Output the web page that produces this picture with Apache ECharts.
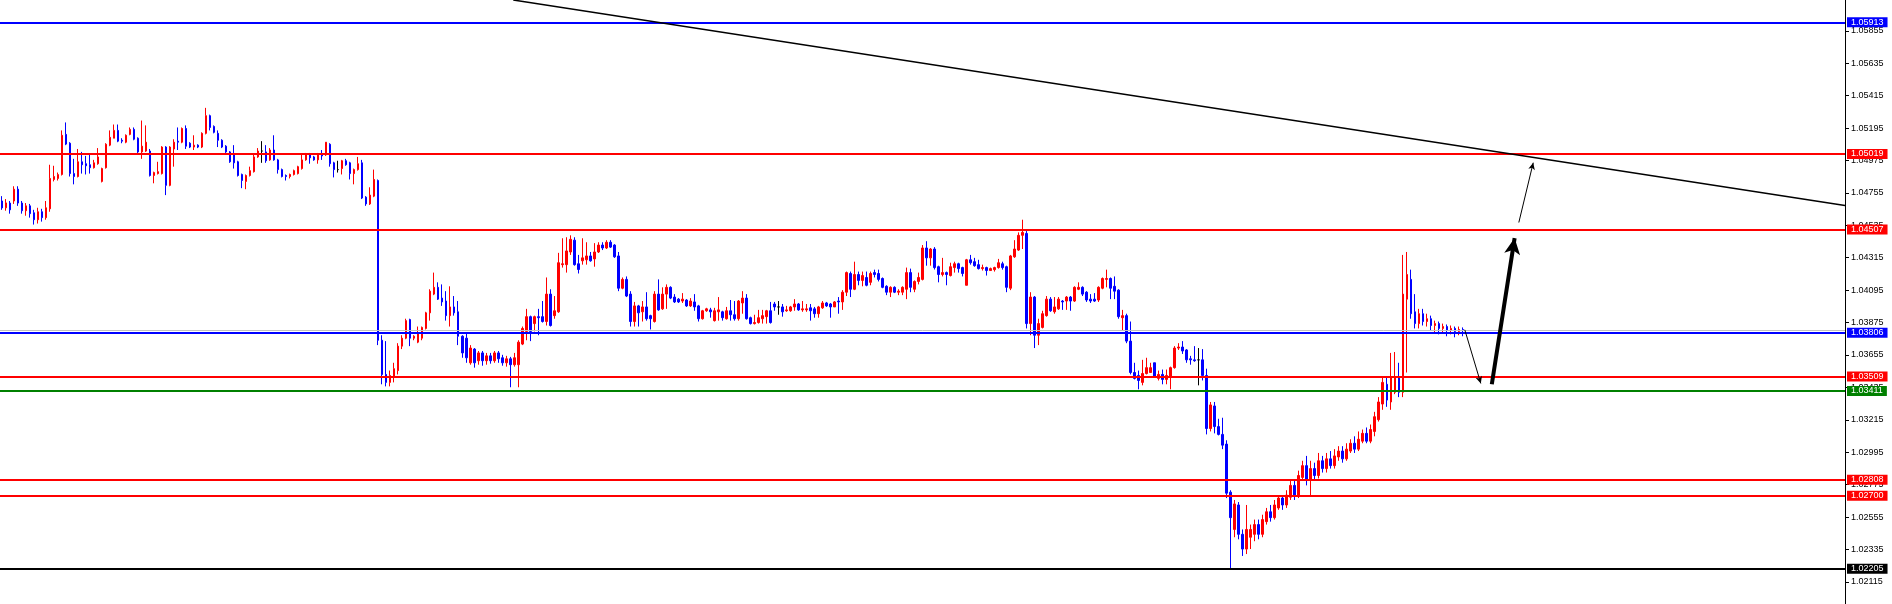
<!DOCTYPE html>
<html><head><meta charset="utf-8">
<script src="https://cdn.jsdelivr.net/npm/echarts@6/dist/echarts.min.js"></script>
<style>html,body{margin:0;padding:0;background:#fff}#c{width:1892px;height:604px}</style>
</head><body><div id="c"></div>
<script>
// ---- DATA (bars) ----
const OPEN = [
1.04700,1.04654,1.04686,1.04700,1.04780,1.04686,1.04634,1.04667,1.04620,1.04573,
1.04627,1.04587,1.04647,1.04846,1.04853,1.04880,1.05152,1.05092,1.04886,1.04866,
1.04966,1.04953,1.04946,1.04926,1.04953,1.04833,1.04926,1.05079,1.05126,1.05179,
1.05112,1.05099,1.05152,1.05186,1.05126,1.05033,1.05039,1.05039,1.04873,1.04886,
1.04886,1.05066,1.04806,1.05053,1.05106,1.05099,1.05192,1.05092,1.05066,1.05079,
1.05066,1.05159,1.05279,1.05206,1.05159,1.05112,1.05072,1.05033,1.05019,1.04966,
1.04880,1.04833,1.04873,1.04899,1.04999,1.05039,1.05033,1.04979,1.05046,1.04979,
1.04913,1.04873,1.04866,1.04880,1.04886,1.04920,1.04979,1.05019,1.04999,1.04979,
1.05013,1.05013,1.05085,1.04959,1.04913,1.04920,1.04973,1.04959,1.04886,1.04913,
1.04959,1.04726,1.04680,1.04733,1.04839,1.03755,1.03523,1.03469,1.03509,1.03549,
1.03715,1.03769,1.03895,1.03769,1.03742,1.03769,1.03835,1.03941,1.04068,1.04114,
1.04041,1.04021,1.03922,1.03981,1.03948,1.03782,1.03769,1.03602,1.03695,1.03616,
1.03669,1.03616,1.03649,1.03616,1.03669,1.03636,1.03602,1.03629,1.03589,1.03589,
1.03729,1.03815,1.03915,1.03868,1.03915,1.03915,1.03882,1.04068,1.03922,1.03948,
1.04268,1.04268,1.04354,1.04434,1.04274,1.04294,1.04301,1.04327,1.04307,1.04354,
1.04401,1.04381,1.04420,1.04401,1.04327,1.04108,1.04168,1.04068,1.03882,1.03988,
1.03948,1.03981,1.03922,1.03882,1.04068,1.03968,1.04068,1.04114,1.04048,1.04034,
1.04021,1.04028,1.03988,1.04015,1.03988,1.03901,1.03955,1.03961,1.03888,1.03948,
1.03948,1.03901,1.03955,1.03928,1.03901,1.04008,1.04041,1.03908,1.03868,1.03875,
1.03901,1.03915,1.03955,1.04001,1.03981,1.03981,1.03955,1.03955,1.03981,1.04001,
1.03961,1.03961,1.03975,1.03968,1.03935,1.03975,1.04008,1.04001,1.03981,1.04021,
1.04015,1.04081,1.04208,1.04101,1.04201,1.04161,1.04181,1.04148,1.04214,1.04208,
1.04174,1.04121,1.04081,1.04114,1.04081,1.04081,1.04101,1.04214,1.04101,1.04154,
1.04168,1.04381,1.04314,1.04374,1.04254,1.04201,1.04214,1.04194,1.04248,1.04274,
1.04248,1.04128,1.04301,1.04288,1.04268,1.04241,1.04248,1.04228,1.04234,1.04248,
1.04274,1.04254,1.04108,1.04321,1.04367,1.04467,1.04480,1.03868,1.04048,1.03789,
1.03842,1.03922,1.04034,1.03948,1.03968,1.04021,1.04021,1.04048,1.04021,1.04101,
1.04114,1.04081,1.04034,1.04034,1.04028,1.04108,1.04168,1.04174,1.04121,1.04095,
1.03908,1.03922,1.03749,1.03536,1.03516,1.03469,1.03529,1.03536,1.03602,1.03496,
1.03523,1.03489,1.03509,1.03569,1.03702,1.03709,1.03689,1.03629,1.03622,1.03622,
1.03622,1.03516,1.03156,1.03309,1.03169,1.03116,1.03050,1.02724,1.02471,1.02637,
1.02438,1.02338,1.02418,1.02438,1.02504,1.02438,1.02524,1.02591,1.02551,1.02617,
1.02684,1.02637,1.02690,1.02770,1.02704,1.02824,1.02904,1.02804,1.02884,1.02837,
1.02937,1.02884,1.02950,1.02904,1.02963,1.03003,1.02950,1.03003,1.03056,1.03016,
1.03070,1.03123,1.03070,1.03136,1.03216,1.03322,1.03456,1.03336,1.03402,1.03503,
1.03402,1.04034,1.04168,1.03948,1.03868,1.03935,1.03882,1.03901,1.03855,1.03868,
1.03835,1.03848,1.03822,1.03835,1.03815,1.03828];
const CLOSE = [
1.04653,1.04687,1.04640,1.04780,1.04686,1.04634,1.04667,1.04614,1.04573,1.04627,
1.04587,1.04654,1.04853,1.04866,1.04879,1.05146,1.05086,1.04886,1.04866,1.04966,
1.04946,1.04939,1.04926,1.04959,1.04999,1.04920,1.05085,1.05132,1.05179,1.05106,
1.05106,1.05146,1.05186,1.05119,1.05033,1.05072,1.05099,1.04873,1.04893,1.04899,
1.05066,1.04806,1.05066,1.05099,1.05099,1.05192,1.05072,1.05066,1.05079,1.05066,
1.05159,1.05279,1.05199,1.05166,1.05112,1.05066,1.05033,1.04966,1.04959,1.04873,
1.04839,1.04873,1.04906,1.04999,1.05039,1.05039,1.04973,1.05046,1.04979,1.04913,
1.04866,1.04866,1.04880,1.04906,1.04933,1.04979,1.05019,1.04993,1.04979,1.05019,
1.05006,1.05099,1.04953,1.04913,1.04913,1.04973,1.04946,1.04886,1.04913,1.04953,
1.04720,1.04680,1.04740,1.04846,1.03755,1.03522,1.03469,1.03516,1.03562,1.03715,
1.03769,1.03888,1.03769,1.03782,1.03802,1.03842,1.03941,1.04088,1.04114,1.04034,
1.04015,1.03922,1.03981,1.03941,1.03782,1.03669,1.03636,1.03702,1.03602,1.03669,
1.03616,1.03649,1.03616,1.03669,1.03629,1.03602,1.03629,1.03589,1.03636,1.03742,
1.03835,1.03915,1.03815,1.03915,1.03908,1.03882,1.04068,1.03855,1.03955,1.04281,
1.04274,1.04361,1.04440,1.04268,1.04235,1.04314,1.04327,1.04294,1.04354,1.04401,
1.04381,1.04420,1.04387,1.04321,1.04108,1.04168,1.04055,1.03882,1.03988,1.03941,
1.03981,1.03901,1.03901,1.04068,1.03961,1.04068,1.04114,1.04041,1.04015,1.04015,
1.04034,1.03988,1.04021,1.03981,1.03901,1.03955,1.03968,1.03948,1.03955,1.03961,
1.03908,1.03955,1.03928,1.03901,1.04021,1.04041,1.03901,1.03868,1.03875,1.03908,
1.03922,1.03955,1.03875,1.03981,1.03981,1.03948,1.03961,1.03981,1.04001,1.03961,
1.03968,1.03968,1.03955,1.03935,1.03981,1.04008,1.03988,1.03981,1.04015,1.04015,
1.04081,1.04214,1.04101,1.04201,1.04161,1.04194,1.04128,1.04208,1.04201,1.04168,
1.04114,1.04081,1.04114,1.04081,1.04088,1.04114,1.04214,1.04114,1.04154,1.04181,
1.04381,1.04314,1.04374,1.04248,1.04201,1.04214,1.04201,1.04254,1.04274,1.04241,
1.04208,1.04301,1.04281,1.04261,1.04241,1.04248,1.04228,1.04241,1.04248,1.04281,
1.04248,1.04114,1.04327,1.04374,1.04467,1.04487,1.03868,1.04048,1.03789,1.03868,
1.03935,1.04034,1.03955,1.03981,1.04034,1.04015,1.04048,1.04021,1.04114,1.04114,
1.04068,1.04028,1.04021,1.04021,1.04114,1.04174,1.04174,1.04108,1.04088,1.03915,
1.03922,1.03749,1.03536,1.03496,1.03482,1.03529,1.03569,1.03569,1.03509,1.03523,
1.03489,1.03516,1.03569,1.03702,1.03709,1.03682,1.03622,1.03622,1.03616,1.03622,
1.03516,1.03156,1.03316,1.03169,1.03116,1.03043,1.02717,1.02551,1.02644,1.02438,
1.02338,1.02471,1.02471,1.02504,1.02438,1.02538,1.02591,1.02551,1.02637,1.02684,
1.02637,1.02704,1.02770,1.02704,1.02837,1.02904,1.02804,1.02884,1.02837,1.02937,
1.02884,1.02950,1.02904,1.02970,1.03003,1.02950,1.03016,1.03056,1.03016,1.03083,
1.03123,1.03070,1.03149,1.03236,1.03336,1.03469,1.03349,1.03503,1.03503,1.03402,
1.04068,1.04201,1.03935,1.03868,1.03935,1.03882,1.03901,1.03855,1.03868,1.03835,
1.03848,1.03822,1.03835,1.03815,1.03828,1.03826];
const LOW = [
1.04640,1.04634,1.04614,1.04680,1.04667,1.04614,1.04600,1.04587,1.04540,1.04547,
1.04560,1.04573,1.04627,1.04833,1.04839,1.04873,1.05079,1.04866,1.04813,1.04860,
1.04886,1.04880,1.04886,1.04920,1.04946,1.04826,1.04920,1.05072,1.05126,1.05099,
1.05092,1.05092,1.05146,1.05112,1.05026,1.04986,1.05033,1.04866,1.04820,1.04880,
1.04880,1.04740,1.04800,1.04933,1.05046,1.05092,1.05053,1.05059,1.05046,1.05059,
1.05059,1.05152,1.05179,1.05159,1.05066,1.05059,1.05026,1.04959,1.04920,1.04866,
1.04787,1.04780,1.04866,1.04893,1.04993,1.04959,1.04959,1.04973,1.04973,1.04886,
1.04860,1.04839,1.04853,1.04873,1.04880,1.04913,1.04973,1.04953,1.04973,1.04953,
1.04979,1.05006,1.04933,1.04860,1.04893,1.04880,1.04939,1.04846,1.04813,1.04906,
1.04713,1.04667,1.04673,1.04726,1.03722,1.03456,1.03442,1.03442,1.03469,1.03523,
1.03695,1.03762,1.03715,1.03755,1.03735,1.03755,1.03828,1.03888,1.04061,1.04028,
1.03988,1.03888,1.03848,1.03922,1.03722,1.03636,1.03602,1.03589,1.03569,1.03589,
1.03582,1.03589,1.03596,1.03602,1.03602,1.03582,1.03576,1.03436,1.03576,1.03436,
1.03722,1.03755,1.03749,1.03815,1.03789,1.03875,1.03855,1.03848,1.03901,1.03941,
1.04248,1.04214,1.04334,1.04261,1.04208,1.04268,1.04268,1.04288,1.04254,1.04347,
1.04367,1.04374,1.04381,1.04314,1.04088,1.04101,1.04048,1.03848,1.03848,1.03848,
1.03882,1.03888,1.03828,1.03875,1.03955,1.03961,1.03968,1.04034,1.04008,1.04008,
1.04008,1.03981,1.03981,1.03955,1.03882,1.03895,1.03948,1.03908,1.03882,1.03888,
1.03888,1.03895,1.03888,1.03888,1.03888,1.03935,1.03895,1.03862,1.03862,1.03868,
1.03868,1.03868,1.03868,1.03955,1.03928,1.03915,1.03948,1.03948,1.03955,1.03955,
1.03948,1.03948,1.03888,1.03908,1.03908,1.03968,1.03981,1.03908,1.03981,1.03935,
1.03961,1.04055,1.04048,1.04095,1.04128,1.04121,1.04121,1.04128,1.04181,1.04154,
1.04108,1.04061,1.04048,1.04075,1.04061,1.04061,1.04034,1.04081,1.04081,1.04134,
1.04161,1.04261,1.04261,1.04235,1.04148,1.04188,1.04128,1.04188,1.04214,1.04214,
1.04188,1.04128,1.04268,1.04254,1.04235,1.04228,1.04194,1.04228,1.04221,1.04241,
1.04234,1.04081,1.04095,1.04314,1.04361,1.04374,1.03835,1.03789,1.03702,1.03722,
1.03835,1.03915,1.03948,1.03935,1.03961,1.03961,1.03961,1.03955,1.04015,1.04095,
1.04055,1.04015,1.04008,1.04015,1.04015,1.04101,1.04114,1.04034,1.04034,1.03901,
1.03822,1.03735,1.03523,1.03489,1.03422,1.03449,1.03523,1.03536,1.03503,1.03482,
1.03456,1.03456,1.03422,1.03562,1.03689,1.03662,1.03602,1.03589,1.03609,1.03449,
1.03482,1.03116,1.03136,1.03123,1.03109,1.03016,1.02684,1.02205,1.02418,1.02404,
1.02291,1.02304,1.02338,1.02391,1.02404,1.02418,1.02504,1.02524,1.02538,1.02604,
1.02604,1.02617,1.02671,1.02671,1.02684,1.02804,1.02770,1.02704,1.02804,1.02817,
1.02857,1.02857,1.02884,1.02884,1.02937,1.02924,1.02937,1.02990,1.02990,1.03003,
1.03056,1.03056,1.03056,1.03103,1.03203,1.03283,1.03303,1.03283,1.03389,1.03369,
1.03369,1.03536,1.03901,1.03835,1.03835,1.03855,1.03848,1.03822,1.03809,1.03795,
1.03802,1.03782,1.03795,1.03775,1.03789,1.03782];
const HIGH = [
1.04733,1.04713,1.04700,1.04800,1.04800,1.04700,1.04686,1.04680,1.04640,1.04654,
1.04647,1.04700,1.04946,1.04939,1.04893,1.05179,1.05233,1.05099,1.04986,1.05053,
1.05033,1.05006,1.05013,1.04979,1.05059,1.04926,1.05092,1.05179,1.05219,1.05219,
1.05126,1.05152,1.05199,1.05199,1.05132,1.05246,1.05213,1.05053,1.04899,1.04966,
1.05072,1.05072,1.05072,1.05119,1.05199,1.05199,1.05213,1.05099,1.05146,1.05085,
1.05166,1.05332,1.05286,1.05213,1.05179,1.05119,1.05079,1.05039,1.05079,1.04973,
1.04886,1.04880,1.04933,1.05013,1.05059,1.05106,1.05079,1.05059,1.05146,1.04986,
1.04920,1.04880,1.04886,1.04913,1.04939,1.05013,1.05026,1.05026,1.05006,1.05026,
1.05046,1.05099,1.05092,1.04966,1.04973,1.04979,1.04986,1.04966,1.04920,1.04999,
1.04979,1.04733,1.04793,1.04913,1.04846,1.03789,1.03749,1.03549,1.03602,1.03735,
1.03789,1.03901,1.03901,1.03789,1.03848,1.03848,1.03948,1.04101,1.04214,1.04148,
1.04134,1.04088,1.04121,1.04055,1.04021,1.03789,1.03802,1.03722,1.03702,1.03682,
1.03682,1.03669,1.03669,1.03682,1.03682,1.03656,1.03649,1.03642,1.03669,1.03755,
1.03848,1.03968,1.03922,1.03922,1.03968,1.04021,1.04181,1.04101,1.04055,1.04348,
1.04447,1.04454,1.04467,1.04454,1.04334,1.04447,1.04420,1.04354,1.04414,1.04420,
1.04420,1.04434,1.04434,1.04407,1.04354,1.04181,1.04188,1.04088,1.04015,1.03995,
1.04021,1.04081,1.03928,1.04088,1.04168,1.04114,1.04134,1.04121,1.04068,1.04041,
1.04075,1.04034,1.04041,1.04068,1.03995,1.03961,1.03975,1.03975,1.03975,1.04048,
1.03955,1.03981,1.04028,1.04021,1.04028,1.04088,1.04068,1.03915,1.03928,1.03961,
1.03961,1.03961,1.04015,1.04015,1.04021,1.04001,1.03988,1.03988,1.04034,1.04008,
1.04021,1.04001,1.04001,1.03981,1.03988,1.04021,1.04015,1.04008,1.04021,1.04048,
1.04095,1.04221,1.04221,1.04288,1.04221,1.04221,1.04221,1.04221,1.04234,1.04234,
1.04181,1.04128,1.04121,1.04121,1.04101,1.04121,1.04248,1.04241,1.04161,1.04214,
1.04401,1.04427,1.04381,1.04387,1.04261,1.04314,1.04221,1.04281,1.04288,1.04281,
1.04254,1.04307,1.04334,1.04314,1.04301,1.04268,1.04254,1.04248,1.04254,1.04307,
1.04288,1.04261,1.04334,1.04434,1.04487,1.04573,1.04500,1.04081,1.04055,1.03901,
1.03955,1.04055,1.04048,1.04048,1.04048,1.04028,1.04055,1.04055,1.04121,1.04148,
1.04121,1.04088,1.04068,1.04075,1.04121,1.04181,1.04234,1.04181,1.04188,1.04101,
1.03961,1.03935,1.03882,1.03602,1.03549,1.03622,1.03636,1.03602,1.03602,1.03549,
1.03556,1.03556,1.03576,1.03715,1.03735,1.03749,1.03695,1.03649,1.03715,1.03702,
1.03695,1.03562,1.03336,1.03336,1.03222,1.03229,1.03076,1.02737,1.02671,1.02657,
1.02471,1.02637,1.02504,1.02538,1.02538,1.02571,1.02617,1.02637,1.02671,1.02704,
1.02704,1.02737,1.02804,1.02804,1.02870,1.02937,1.02970,1.02937,1.02924,1.02990,
1.02970,1.02990,1.03003,1.03016,1.03036,1.03036,1.03056,1.03083,1.03103,1.03136,
1.03149,1.03163,1.03183,1.03269,1.03369,1.03503,1.03503,1.03669,1.03675,1.03602,
1.04334,1.04354,1.04234,1.04068,1.03968,1.03968,1.03935,1.03922,1.03888,1.03882,
1.03868,1.03862,1.03855,1.03848,1.03848,1.03842];

// Horizontal price levels drawn on the chart
const LEVEL_PRICES = [1.05913, 1.05019, 1.04507, 1.03806, 1.03509, 1.03411, 1.02808, 1.02700, 1.02205];
const BID_PRICE = 1.03826;
// Right price-scale tick labels
const TICK_LABELS = [1.02115,1.02335,1.02555,1.02775,1.02995,1.03215,1.03435,1.03655,1.03875,
  1.04095,1.04315,1.04535,1.04755,1.04975,1.05195,1.05415,1.05635,1.05855];
// Drawn annotations: [barIndex, price] anchor pairs
const TREND_LINE = [[127.75, 1.06064], [460.5, 1.04670]];
const ARROW_DOWN = [[365.5, 1.03826], [369.5, 1.03462]];
const ARROW_UP_BIG = [[372.25, 1.03456], [377.95, 1.04448]];
const ARROW_UP_SMALL = [[379.0, 1.04554], [382.6, 1.04960]];
const BAR_SLOTS = 461; // bars that fit the visible window

// ---- CHART ----
const CATEGORIES = Array.from({length: BAR_SLOTS}, (_, i) => 'b' + i);
const candles = OPEN.map((o, i) => [o, CLOSE[i], LOW[i], HIGH[i]]);
const LEVEL_COLORS = ['#0000ff','#ff0000','#ff0000','#0000ff','#ff0000','#008000','#ff0000','#ff0000','#000000'];
const FONT = 'Liberation Sans';

const levelLines = LEVEL_PRICES.map((p, k) => ({
  yAxis: p,
  lineStyle: {color: LEVEL_COLORS[k], width: 2, type: 'solid'},
  label: {show: true, position: 'end', distance: 2, formatter: p.toFixed(5),
    color: '#fff', backgroundColor: LEVEL_COLORS[k], padding: [1, 4, 0, 4],
    fontSize: 9, lineHeight: 9, fontFamily: FONT}
}));
levelLines.unshift({yAxis: BID_PRICE, lineStyle: {color: '#c0c0c0', width: 1, type: 'solid'}, label: {show: false}});

const seg = (pts, width, head) => [
  {coord: pts[0], symbol: 'none', lineStyle: {color: '#000', width: width, type: 'solid'}},
  head ? {coord: pts[1], symbol: 'arrow', symbolSize: head} : {coord: pts[1], symbol: 'none'}
];

const chart = echarts.init(document.getElementById('c'), null, {renderer: 'canvas'});
chart.setOption({
  animation: false,
  backgroundColor: '#ffffff',
  grid: {left: 0, right: 47, top: 0, bottom: 0, containLabel: false},
  xAxis: [
    {type: 'category', data: CATEGORIES, boundaryGap: true, show: false},
    {type: 'value', min: -0.5, max: BAR_SLOTS - 0.5, show: false}
  ],
  yAxis: {
    type: 'value', position: 'right', min: 1.01965, max: 1.06064, scale: true,
    splitLine: {show: false},
    axisLine: {show: true, onZero: false, lineStyle: {color: '#000', width: 1}},
    axisTick: {show: true, customValues: TICK_LABELS, length: 4, lineStyle: {color: '#000'}},
    axisLabel: {customValues: TICK_LABELS, formatter: v => v.toFixed(5), color: '#000',
      fontSize: 9, fontFamily: FONT, margin: 6}
  },
  series: [
    {
      type: 'candlestick', xAxisIndex: 0, yAxisIndex: 0, data: candles, barWidth: 2,
      itemStyle: {color: '#ff0000', color0: '#0000ff', borderColor: '#ff0000', borderColor0: '#0000ff',
        borderColorDoji: '#000000', borderWidth: 1},
      silent: true
    },
    {
      type: 'line', xAxisIndex: 1, yAxisIndex: 0, data: [], silent: true,
      markLine: {silent: true, animation: false, precision: 5, symbol: ['none', 'none'], data: levelLines}
    },
    {
      type: 'line', xAxisIndex: 1, yAxisIndex: 0, data: [], silent: true,
      markLine: {silent: true, animation: false, precision: 5, symbol: ['none', 'none'], label: {show: false},
        data: [
          seg(TREND_LINE, 1.5, null),
          seg(ARROW_DOWN, 1, [5, 7]),
          seg(ARROW_UP_BIG, 4, [12, 16]),
          seg(ARROW_UP_SMALL, 1, [5, 7])
        ]}
    }
  ]
});
</script>
</body></html>
